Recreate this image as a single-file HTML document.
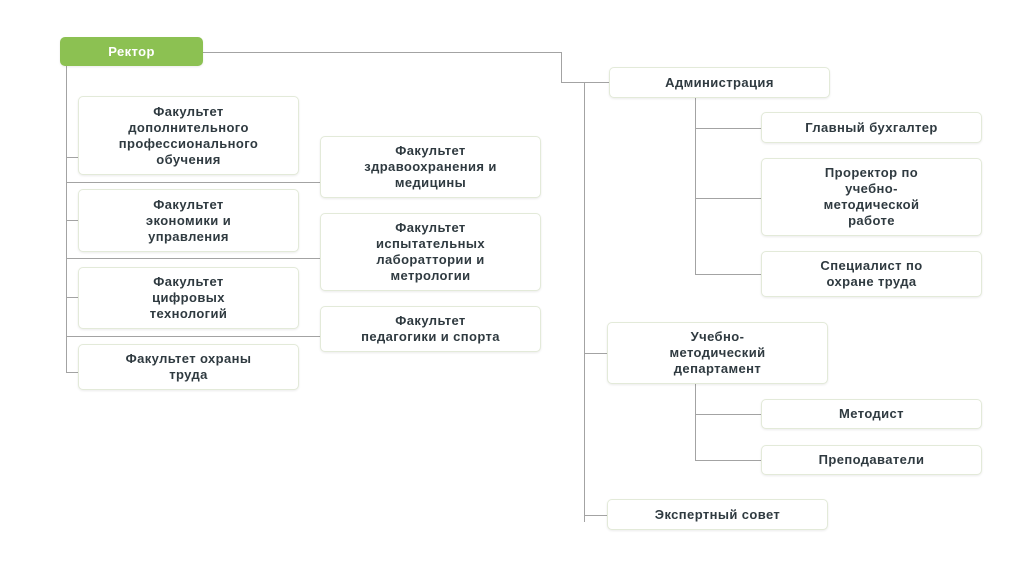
<!DOCTYPE html>
<html><head><meta charset="utf-8"><style>
body{margin:0;width:1024px;height:588px;background:#fff;position:relative;overflow:hidden;font-family:"Liberation Sans",sans-serif}
.b{position:absolute;box-sizing:border-box;border:1px solid #e3ead9;border-radius:5px;background:#fff;box-shadow:0 1px 2px rgba(0,0,0,.08);display:flex;align-items:center;justify-content:center;text-align:center;font-weight:bold;font-size:13px;line-height:16px;color:#2f3a40;letter-spacing:0.4px;white-space:nowrap}
svg{position:absolute;left:0;top:0}
</style></head><body>
<svg width="1024" height="588"><g stroke="#a3a3a3" stroke-width="1" fill="none">
<path d="M203 52.5H561.5V82.5H609"/>
<path d="M584.5 82V522"/><path d="M584 353.5H607M584 515.5H607"/>
<path d="M695.5 98V274.5M695 128.5H761M695 198.5H761M695 274.5H761"/>
<path d="M695.5 384V460.5M695 414.5H761M695 460.5H761"/>
<path d="M66.5 66V372.5"/>
<path d="M66 157.5H78M66 182.5H320M66 220.5H78M66 258.5H320M66 297.5H78M66 336.5H320M66 372.5H78"/>
</g></svg>
<div class="b" style="left:60px;top:37px;width:143px;height:29px;background:#8cc152;border-color:#8cc152;color:#fff">Ректор</div>
<div class="b" style="left:78px;top:96px;width:221px;height:79px">Факультет<br>дополнительного<br>профессионального<br>обучения</div>
<div class="b" style="left:320px;top:136px;width:221px;height:62px">Факультет<br>здравоохранения и<br>медицины</div>
<div class="b" style="left:78px;top:189px;width:221px;height:63px">Факультет<br>экономики и<br>управления</div>
<div class="b" style="left:320px;top:213px;width:221px;height:78px">Факультет<br>испытательных<br>лабораттории и<br>метрологии</div>
<div class="b" style="left:78px;top:267px;width:221px;height:62px">Факультет<br>цифровых<br>технологий</div>
<div class="b" style="left:320px;top:306px;width:221px;height:46px">Факультет<br>педагогики и спорта</div>
<div class="b" style="left:78px;top:344px;width:221px;height:46px">Факультет охраны<br>труда</div>
<div class="b" style="left:609px;top:67px;width:221px;height:31px">Администрация</div>
<div class="b" style="left:761px;top:112px;width:221px;height:31px">Главный бухгалтер</div>
<div class="b" style="left:761px;top:158px;width:221px;height:78px">Проректор по<br>учебно-<br>методической<br>работе</div>
<div class="b" style="left:761px;top:251px;width:221px;height:46px">Специалист по<br>охране труда</div>
<div class="b" style="left:607px;top:322px;width:221px;height:62px">Учебно-<br>методический<br>департамент</div>
<div class="b" style="left:761px;top:399px;width:221px;height:30px">Методист</div>
<div class="b" style="left:761px;top:445px;width:221px;height:30px">Преподаватели</div>
<div class="b" style="left:607px;top:499px;width:221px;height:31px">Экспертный совет</div>
</body></html>
